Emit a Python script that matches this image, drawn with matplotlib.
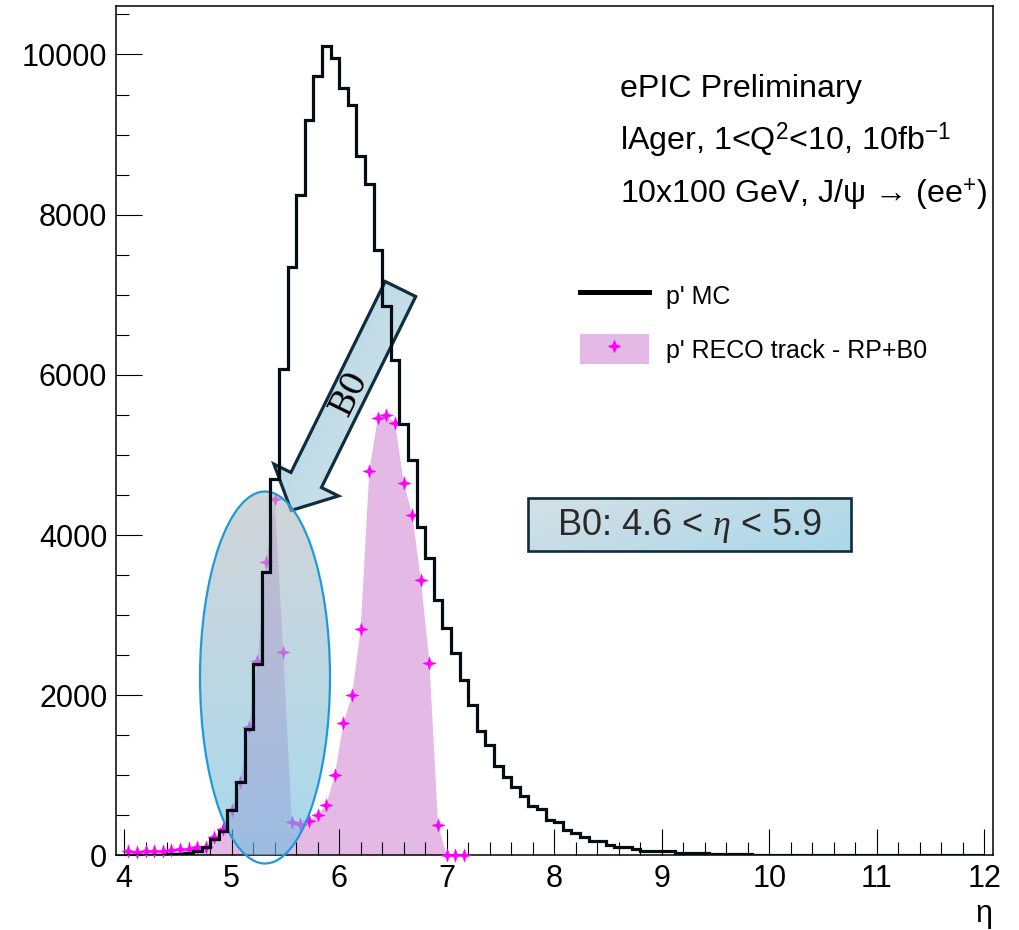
#!/usr/bin/env python3
"""ePIC preliminary: p' eta distribution, MC vs RECO (RP+B0)."""
import numpy as np
import matplotlib
matplotlib.use("Agg")
import matplotlib.pyplot as plt
import matplotlib.colors as mcolors
from matplotlib.patches import Polygon, Ellipse, Rectangle, Patch
from matplotlib.path import Path
from matplotlib.lines import Line2D
from matplotlib.legend_handler import HandlerTuple

plt.rcParams["font.family"] = ["Liberation Sans", "DejaVu Sans"]
plt.rcParams["mathtext.fontset"] = "custom"
plt.rcParams["mathtext.rm"] = "Liberation Sans"
plt.rcParams["mathtext.it"] = "Liberation Serif:italic"

# histogram binning: 100 bins of 0.08 from eta = 4 to 12
BIN_LO = 4.0
BIN_W = 0.08
NBINS = 100

# p' MC counts per bin
mc_counts = [
    5, 5, 5, 8, 8, 15, 20, 30, 55, 104,
    208, 303, 562, 920, 1582, 2395, 3540, 4703, 6070, 7345,
    8240, 9176, 9725, 10100, 9954, 9584, 9363, 8727, 8386, 7553,
    6854, 6180, 5381, 4940, 4107, 3710, 3184, 2845, 2525, 2185,
    1881, 1548, 1382, 1115, 986, 853, 749, 612, 583, 446,
    424, 321, 279, 229, 187, 179, 125, 112, 104, 83,
    62, 54, 50, 60, 30, 28, 25, 25, 20, 18,
    15, 18, 14, 12, 6, 5, 12, 12, 10, 10,
    4, 4, 3, 2, 2, 1, 1, 2, 1, 1,
    1, 0, 1, 1, 0, 1, 0, 0, 0, 0,
]

# p' RECO track (RP+B0), first 40 bins (values at bin centres)
reco_counts = [
    60, 40, 60, 60, 60, 69, 77, 77, 110, 110,
    227, 327, 568, 921, 1608, 2428, 3665, 4451, 2537, 414,
    393, 425, 500, 635, 1010, 1660, 2004, 2824, 4800, 5466,
    5500, 5396, 4654, 4251, 3439, 2400, 381, 0, 0, 0,
]

X_RANGE = (3.92, 12.08)
Y_RANGE = (0, 10605)

PINK = "#e4b9e5"
MAGENTA = "#ff00ff"
NAVY = "#0f2d3d"


def star4(r=0.25):
    verts = [(0, 1), (r, r), (1, 0), (r, -r), (0, -1), (-r, -r), (-1, 0), (-r, r), (0, 1)]
    codes = [Path.MOVETO] + [Path.LINETO] * 7 + [Path.CLOSEPOLY]
    return Path(verts, codes)


def gradient_fill(ax, patch, c0, c1, direction, alpha=1.0, zorder=3):
    """Fill a patch with a linear gradient (direction given in display space)."""
    verts = patch.get_transform().transform(patch.get_path().vertices)
    x0, y0 = verts.min(axis=0)
    x1, y1 = verts.max(axis=0)
    gx, gy = np.meshgrid(np.linspace(x0, x1, 300), np.linspace(y1, y0, 300))
    d = np.asarray(direction, float)
    d /= np.hypot(*d)
    t = (gx - x0) * d[0] + (gy - y0) * d[1]
    t = (t - t.min()) / (t.max() - t.min())
    a = np.array(mcolors.to_rgb(c0))
    b = np.array(mcolors.to_rgb(c1))
    img = a + t[..., None] * (b - a)
    inv = ax.transData.inverted()
    (dx0, dy0), (dx1, dy1) = inv.transform([(x0, y0), (x1, y1)])
    im = ax.imshow(img, extent=(dx0, dx1, dy0, dy1), origin="upper", aspect="auto",
                   alpha=alpha, zorder=zorder, interpolation="bilinear")
    im.set_clip_path(patch)
    im.set_clip_box(None)
    return im


def main():
    fig = plt.figure(figsize=(10.19, 9.30), dpi=100)
    ax = fig.add_axes([0.11344, 0.08011, 0.86084, 0.91344])
    ax.set_xlim(*X_RANGE)
    ax.set_ylim(*Y_RANGE)

    edges = BIN_LO + BIN_W * np.arange(NBINS + 1)
    centers = 0.5 * (edges[:-1] + edges[1:])
    reco_eta = centers[:len(reco_counts)]
    star = star4()

    # RECO filled + markers
    ax.fill_between(reco_eta, reco_counts, 0, facecolor=PINK, linewidth=0, zorder=1)
    ax.plot(reco_eta, reco_counts, ls="none", marker=star, ms=9.5, color=MAGENTA,
            mec=MAGENTA, mew=0.3, zorder=3, clip_on=False)

    # MC outline (drawn above the ellipse overlay so it stays dark)
    ax.stairs(mc_counts, edges, color="#050d14", linewidth=2.3, zorder=4.6)

    # B0 ellipse (semi-transparent overlay)
    ell = Ellipse((5.31, 2222), 1.209, 4644, facecolor="none", edgecolor="#1e9bd7",
                  linewidth=1.6, zorder=4.5, clip_on=False)
    ax.add_patch(ell)
    gradient_fill(ax, ell, "#b4babf", "#6cc0e3", (0, -1), alpha=0.6, zorder=4)

    # block arrow labelled B0 (tail -> tip in data coords)
    tail = ax.transData.transform((6.570, 7072))
    tip = ax.transData.transform((5.553, 4307))
    u = (tip - tail) / np.hypot(*(tip - tail))
    n = np.array([-u[1], u[0]])
    shaft_hw, head_hw, head_len = 17.0, 36.0, 34.0
    base = tip - u * head_len
    poly_disp = np.array([
        tail + n * shaft_hw, base + n * shaft_hw, base + n * head_hw, tip,
        base - n * head_hw, base - n * shaft_hw, tail - n * shaft_hw,
    ])
    poly = Polygon(ax.transData.inverted().transform(poly_disp), closed=True,
                   facecolor="none", edgecolor=NAVY, linewidth=2.3, zorder=2.2,
                   joinstyle="miter")
    ax.add_patch(poly)
    gradient_fill(ax, poly, "#dfe3e6", "#a6d6e9", -n, alpha=1.0, zorder=2.1)
    lab = ax.transData.inverted().transform(tail + 0.47 * (tip - tail))
    ang = np.degrees(np.arctan2(-(tip - tail)[1], -(tip - tail)[0]))
    ax.text(lab[0], lab[1], "B0", rotation=ang, rotation_mode="anchor", ha="center",
            va="center", fontsize=24, family="DejaVu Serif", color="black", zorder=2.3)

    # B0 range box
    box = Rectangle((7.756, 3801), 3.005, 662, facecolor="none", edgecolor=NAVY,
                    linewidth=1.9, zorder=5.1)
    ax.add_patch(box)
    gradient_fill(ax, box, "#d6e0e5", "#a9d8ea", (0.35, -1), alpha=1.0, zorder=5)
    ax.text(7.756 + 3.005 / 2, 3801 + 662 / 2 - 15, r"B0: 4.6 < $\eta$ < 5.9", ha="center",
            va="center", fontsize=26, color="#2a2a2a", zorder=5.2)

    # header text
    tx = 0.575
    ax.text(tx, 0.8933, "ePIC Preliminary", transform=ax.transAxes, fontsize=23.2,
            va="baseline")
    ax.text(tx, 0.8305, r"lAger, 1<Q$^{2}$<10, 10fb$^{\mathrm{-1}}$", transform=ax.transAxes,
            fontsize=23.2, va="baseline")
    ax.text(tx, 0.7684, "10x100 GeV, J/ψ → (ee$^{+}$)", transform=ax.transAxes,
            fontsize=23.2, va="baseline")

    # legend
    handles = [
        Line2D([], [], color="black", linewidth=3.6),
        (Patch(facecolor=PINK, linewidth=0),
         Line2D([], [], ls="none", marker=star, ms=8, color=MAGENTA)),
    ]
    labels = ["p' MC", "p' RECO track - RP+B0"]
    ax.legend(handles, labels, handler_map={tuple: HandlerTuple(ndivide=1)},
              loc="upper left", bbox_to_anchor=(0.5294, 0.6770), frameon=False,
              fontsize=18, handlelength=2.76, handleheight=1.48, handletextpad=0.68,
              labelspacing=0.95, borderpad=0, borderaxespad=0)

    # axes styling (ROOT-like)
    ax.set_xticks(np.arange(4, 13, 1))
    ax.set_xticks(np.arange(4, 12.01, 0.2), minor=True)
    ax.set_yticks(np.arange(0, 10001, 2000))
    ax.set_yticks(np.arange(0, 10501, 500), minor=True)
    ax.tick_params(which="both", direction="in", top=False, right=False, width=0.8,
                   labelsize=22, pad=6)
    ax.tick_params(which="major", length=18.5)
    ax.tick_params(which="minor", length=9.3)
    for sp in ax.spines.values():
        sp.set_linewidth(1.1)
    ax.set_xlabel("η", loc="right", fontsize=22, labelpad=4)
    ax.set_xlim(*X_RANGE)
    ax.set_ylim(*Y_RANGE)

    fig.savefig("out.png", dpi=100)
    plt.close(fig)


if __name__ == "__main__":
    main()
